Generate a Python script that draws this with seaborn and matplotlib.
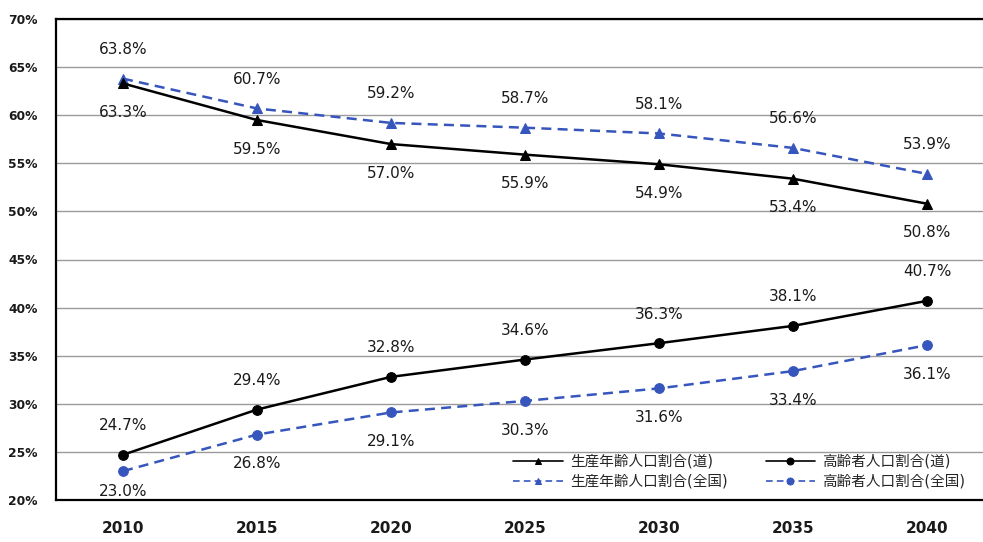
import matplotlib
matplotlib.use("Agg")
import matplotlib.pyplot as plt
from matplotlib.ticker import FixedLocator, FuncFormatter
import seaborn as sns
import pandas as pd

years = [2010, 2015, 2020, 2025, 2030, 2035, 2040]
prod_do = [63.3, 59.5, 57.0, 55.9, 54.9, 53.4, 50.8]
prod_nat = [63.8, 60.7, 59.2, 58.7, 58.1, 56.6, 53.9]
old_do = [24.7, 29.4, 32.8, 34.6, 36.3, 38.1, 40.7]
old_nat = [23.0, 26.8, 29.1, 30.3, 31.6, 33.4, 36.1]
series_names = ["生産年齢人口割合(道)", "生産年齢人口割合(全国)",
                "高齢者人口割合(道)", "高齢者人口割合(全国)"]

sns.set_style("white")
plt.rcParams["font.family"] = ["DejaVu Sans", "Noto Sans CJK JP"]

BLUE = "#3656bd"
styles = {
    series_names[0]: dict(color="black", ls="-", marker="^", ms=7.5, label_dy=-1),
    series_names[1]: dict(color=BLUE, ls=(0, (4, 2.5)), marker="^", ms=7.5, label_dy=1),
    series_names[2]: dict(color="black", ls="-", marker="o", ms=7, label_dy=1),
    series_names[3]: dict(color=BLUE, ls=(0, (4, 2.5)), marker="o", ms=7, label_dy=-1),
}
values = dict(zip(series_names, [prod_do, prod_nat, old_do, old_nat]))

frames = []
for name, vals in values.items():
    frames.append(pd.DataFrame({"pos": range(len(years)), "year": years,
                                "value": vals, "series": name}))
df = pd.concat(frames, ignore_index=True)

fig = plt.figure(figsize=(9.83, 5.42), dpi=100)
ax = fig.add_axes([56 / 983, 1 - 500 / 542, 938 / 983, 481 / 542])

# national series first so the regional lines sit on top
for name in [series_names[1], series_names[3], series_names[0], series_names[2]]:
    st = styles[name]
    sub = df[df["series"] == name]
    sns.lineplot(data=sub, x="pos", y="value", ax=ax, color=st["color"],
                 linestyle=st["ls"], marker=st["marker"], markersize=st["ms"],
                 markeredgecolor=st["color"], linewidth=1.8, label=name,
                 legend=False)
    for x, v in zip(sub["pos"], sub["value"]):
        dy = 21 * st["label_dy"]
        # keep labels under the lowest points clear of the bottom axis
        if dy < 0 and v < 24:
            dy = -15
        ax.annotate(f"{v:.1f}%", (x, v), xytext=(0, dy),
                    textcoords="offset points", ha="center", va="center",
                    fontsize=11, fontweight="medium", color="#1a1a1a")

ax.set_xlim(-0.5, 6.5)
ax.set_ylim(20, 70)
ax.set_xticks(range(len(years)))
ax.set_xticklabels([str(y) for y in years], fontsize=11, fontweight="bold",
                   color="#1a1a1a")
ax.xaxis.set_minor_locator(FixedLocator([i + 0.5 for i in range(-1, 7)]))
ax.tick_params(axis="x", which="major", length=0, pad=15)
ax.tick_params(axis="x", which="minor", length=4, direction="in", color="#333333")
ax.set_yticks(range(20, 71, 5))
ax.yaxis.set_major_formatter(FuncFormatter(lambda v, p: f"{int(v)}%"))
ax.tick_params(axis="y", length=0, pad=13, labelsize=8.8, labelcolor="#1a1a1a")
for lbl in ax.get_yticklabels():
    lbl.set_fontweight("bold")
ax.grid(axis="y", color="#9a9a9a", linewidth=1.0)
ax.set_xlabel("")
ax.set_ylabel("")
for side in ["left", "bottom", "top"]:
    ax.spines[side].set_color("black")
    ax.spines[side].set_linewidth(1.6)
ax.spines["right"].set_visible(False)

handles, labels = ax.get_legend_handles_labels()
order = [labels.index(n) for n in series_names]
leg = fig.legend([handles[i] for i in order], [labels[i] for i in order],
                 ncol=2, frameon=False, fontsize=10.5, handlelength=3.4,
                 columnspacing=2.6, labelspacing=0.35, handletextpad=0.5,
                 loc="lower left", bbox_to_anchor=(500 / 983, 1 - 502 / 542))
for h in leg.legend_handles:
    h.set_markersize(5)
    h.set_linewidth(1.2)

fig.savefig("out.png", dpi=100)
